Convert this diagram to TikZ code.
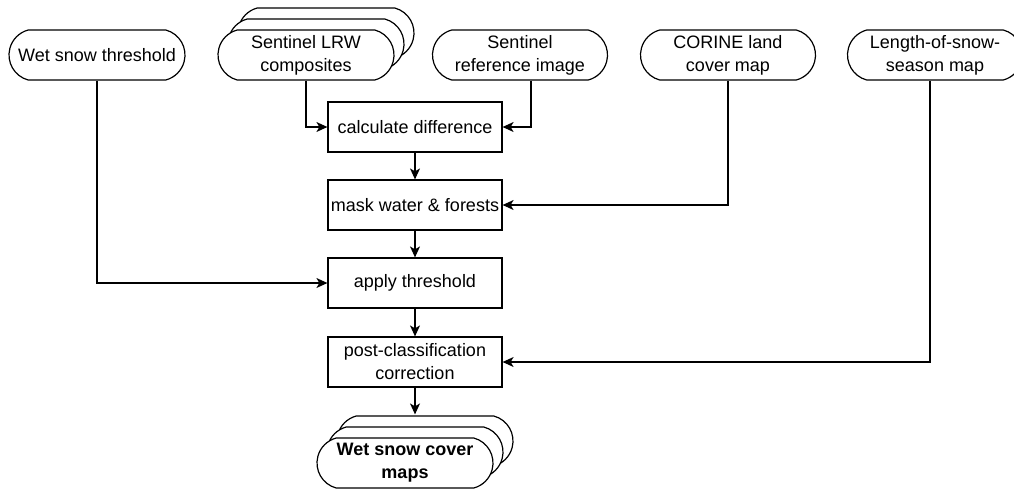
\documentclass[tikz,border=0pt]{standalone}
\usepackage{fontspec}
\setmainfont{Liberation Sans}
\usetikzlibrary{arrows.meta,shapes.misc,shadows}

\tikzset{
  Terminal/.style = {rounded rectangle, rounded rectangle arc length=150,
                     draw, fill=white, line width=1.2pt, inner sep=0pt,
                     minimum width=176pt, minimum height=50pt, align=center},
  Stack/.style    = {Terminal, double copy shadow={shadow xshift=10pt,
                     shadow yshift=11pt, fill=white, draw=black, line width=1.2pt}},
  Process/.style  = {rectangle, draw, fill=white, line width=1.2pt, inner sep=0pt,
                     minimum width=174pt, minimum height=50pt, align=center},
  EdgeStyle/.style = {line width=1.2pt, -{Stealth[length=11pt,width=10pt,inset=3pt]}}
}

\begin{document}
\begin{tikzpicture}[x=1pt, y=-1pt, font=\fontsize{18}{23}\selectfont]
  \useasboundingbox (0,0) rectangle (1014,488);

% inputs

\node[Terminal] (WetThr) at (97,55)  {Wet snow threshold};
\node[Stack]    (LRW)    at (306,55) {Sentinel LRW\\composites};
\node[Terminal, minimum width=175pt] (RefImg) at (520,55) {Sentinel\\reference image};
\node[Terminal, minimum width=175pt] (Corine) at (728,55) {CORINE land\\cover map};
\node[Terminal, minimum width=175pt] (SnowSeason) at (935,55) {Length-of-snow-\\season map};

% processing steps

\node[Process] (CalcDiff) at (415,127) {calculate difference};
\node[Process] (MaskWF)   at (415,205) {mask water \& forests};
\node[Process] (ApplyThr) at (415,283) {apply threshold};
\node[Process] (PostCorr) at (415,362) {post-classification\\correction};

% output

\node[Stack, font=\fontsize{18}{23}\selectfont\bfseries] (WetMaps) at (405,463) {Wet snow cover\\maps};

% edges

\draw[EdgeStyle] (LRW.south) |- (CalcDiff.west);
\draw[EdgeStyle] ([xshift=11pt]RefImg.south) |- (CalcDiff.east);
\draw[EdgeStyle] (Corine.south) |- (MaskWF.east);
\draw[EdgeStyle] (WetThr.south) |- (ApplyThr.west);
\draw[EdgeStyle] ([xshift=-5pt]SnowSeason.south) |- (PostCorr.east);

\draw[EdgeStyle] (CalcDiff) -- (MaskWF);
\draw[EdgeStyle] (MaskWF) -- (ApplyThr);
\draw[EdgeStyle] (ApplyThr) -- (PostCorr);
\draw[EdgeStyle, shorten >=23pt] (PostCorr.south) -- (PostCorr.south |- WetMaps.north);

\end{tikzpicture}
\end{document}
